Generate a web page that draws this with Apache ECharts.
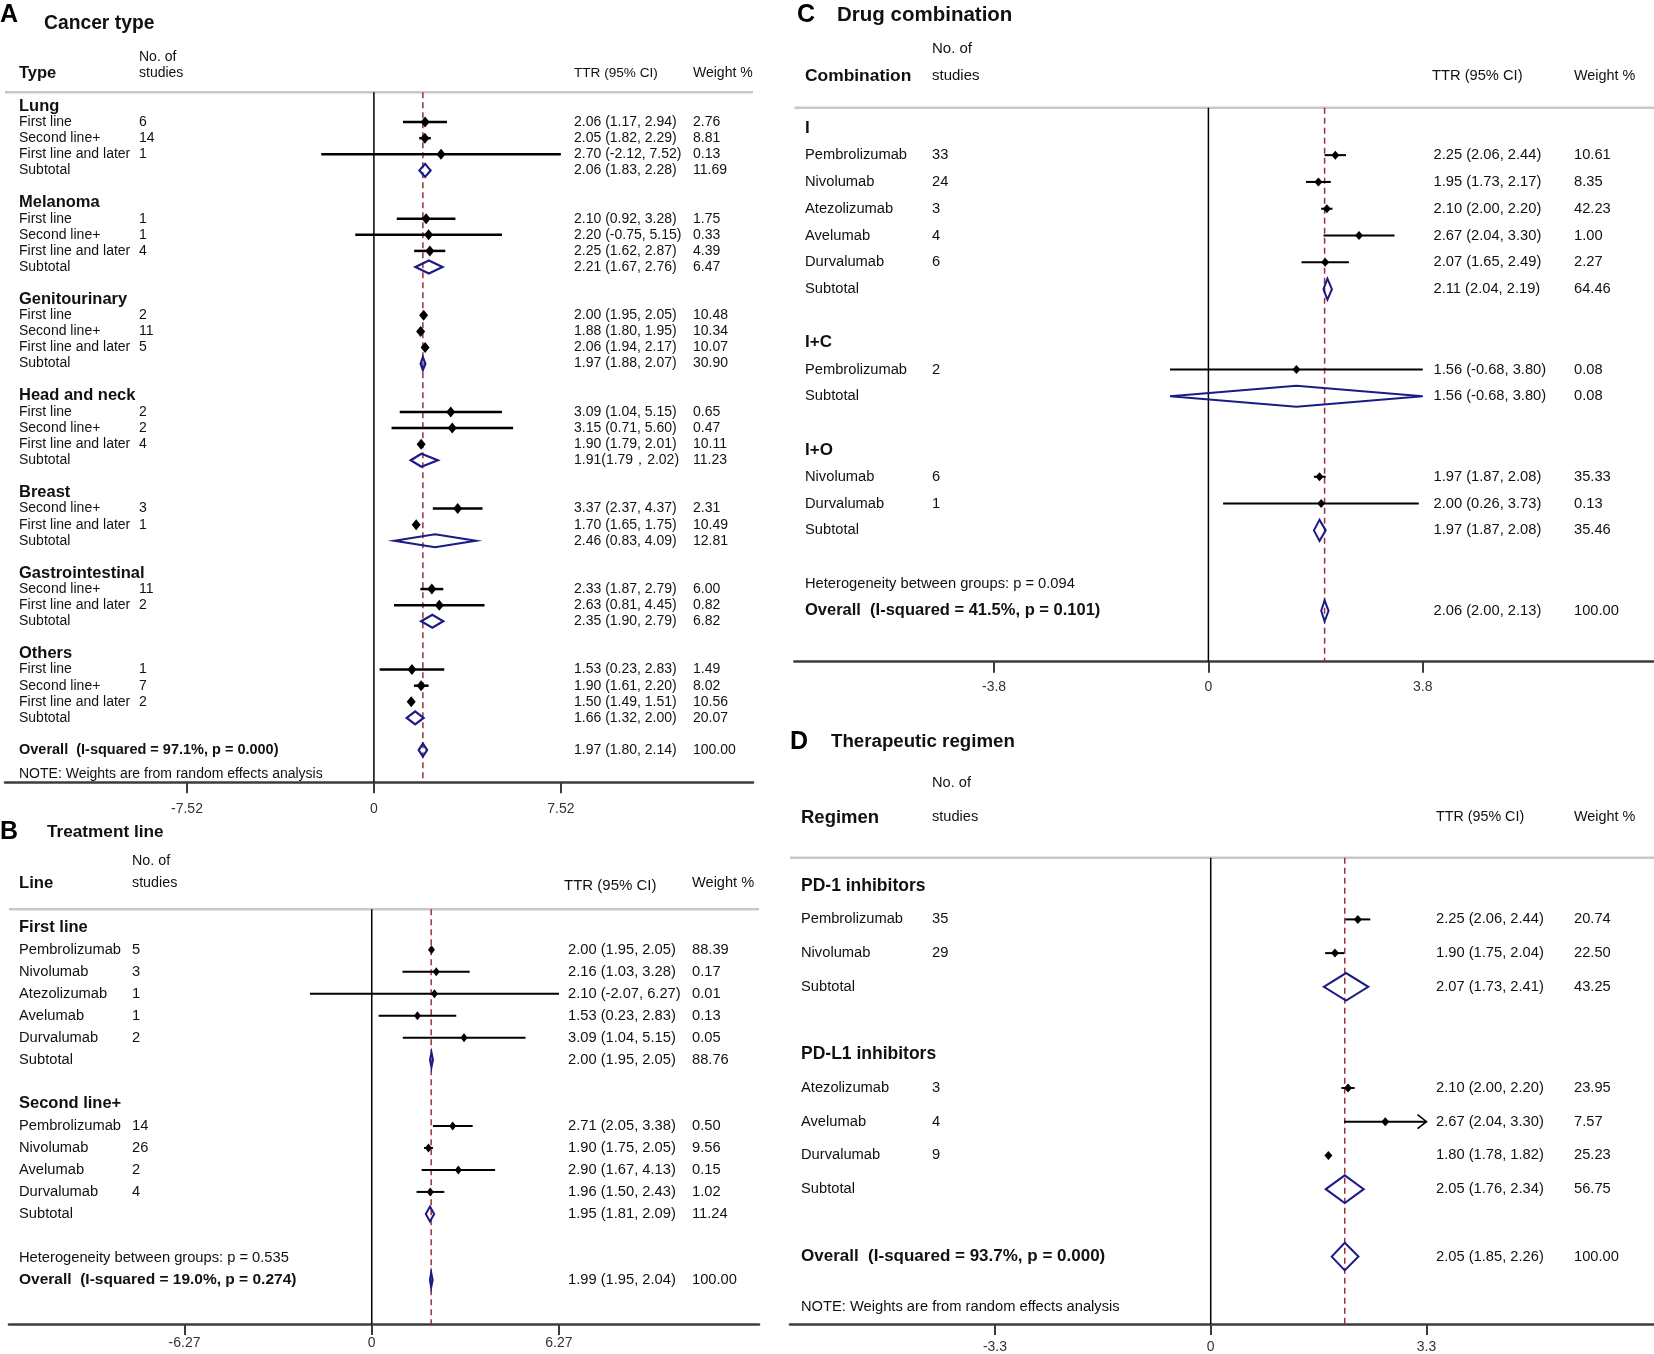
<!DOCTYPE html>
<html>
<head>
<meta charset="UTF-8">
<title>Forest plots</title>
<script src="https://cdn.jsdelivr.net/npm/echarts@6.0.0/dist/echarts.min.js"></script>
<style>
html, body { margin: 0; padding: 0; background: #fff; }
#main { width: 1654px; height: 1354px; }
</style>
</head>
<body>
<div id="main"></div>
<script>
// ---------- A: cancer type ----------
var aPos   = [0, 1, 2, 3, 4, 6, 7, 8, 9, 10, 12, 13, 14, 15, 16, 18, 19, 20, 21, 22, 24, 25, 26, 27, 29, 30, 31, 32, 34, 35, 36, 37, 38, 40, 41.5];
var aKind  = ['h','s','s','s','t', 'h','s','s','s','t', 'h','s','s','s','t', 'h','s','s','s','t', 'h','s','s','t', 'h','s','s','t', 'h','s','s','s','t', 'o','n'];
var aLabel = ['Lung','First line','Second line+','First line and later','Subtotal',
  'Melanoma','First line','Second line+','First line and later','Subtotal',
  'Genitourinary','First line','Second line+','First line and later','Subtotal',
  'Head and neck','First line','Second line+','First line and later','Subtotal',
  'Breast','Second line+','First line and later','Subtotal',
  'Gastrointestinal','Second line+','First line and later','Subtotal',
  'Others','First line','Second line+','First line and later','Subtotal',
  'Overall  (I-squared = 97.1%, p = 0.000)','NOTE: Weights are from random effects analysis'];
var aN     = ['',6,14,1,'', '',1,1,4,'', '',2,11,5,'', '',2,2,4,'', '',3,1,'', '',11,2,'', '',1,7,2,'', '',''];
var aEst   = [null,2.06,2.05,2.70,2.06, null,2.10,2.20,2.25,2.21, null,2.00,1.88,2.06,1.97, null,3.09,3.15,1.90,1.91, null,3.37,1.70,2.46, null,2.33,2.63,2.35, null,1.53,1.90,1.50,1.66, 1.97,null];
// head and neck subtotal: the drawn diamond is wider than its printed interval
var aLow   = [null,1.17,1.82,-2.12,1.83, null,0.92,-0.75,1.62,1.67, null,1.95,1.80,1.94,1.88, null,1.04,0.71,1.79,1.48, null,2.37,1.65,0.83, null,1.87,0.81,1.90, null,0.23,1.61,1.49,1.32, 1.80,null];
var aHigh  = [null,2.94,2.29,7.52,2.28, null,3.28,5.15,2.87,2.76, null,2.05,1.95,2.17,2.07, null,5.15,5.60,2.01,2.57, null,4.37,1.75,4.09, null,2.79,4.45,2.79, null,2.83,2.20,1.51,2.00, 2.14,null];
var aWt    = [null,2.76,8.81,0.13,11.69, null,1.75,0.33,4.39,6.47, null,10.48,10.34,10.07,30.90, null,0.65,0.47,10.11,11.23, null,2.31,10.49,12.81, null,6.00,0.82,6.82, null,1.49,8.02,10.56,20.07, 100.00,null];
var aCIText = {22: '1.91(1.79\uFF0C2.02)'};
var aTicks = [-7.52, 0, 7.52];

// ---------- B: treatment line ----------
var bPos   = [0, 1, 2, 3, 4, 5, 6, 8, 9, 10, 11, 12, 13, 15, 16];
var bKind  = ['h','s','s','s','s','s','t', 'h','s','s','s','s','t', 'n','o'];
var bLabel = ['First line','Pembrolizumab','Nivolumab','Atezolizumab','Avelumab','Durvalumab','Subtotal',
  'Second line+','Pembrolizumab','Nivolumab','Avelumab','Durvalumab','Subtotal',
  'Heterogeneity between groups: p = 0.535','Overall  (I-squared = 19.0%, p = 0.274)'];
var bN     = ['',5,3,1,1,2,'', '',14,26,2,4,'', '',''];
var bEst   = [null,2.00,2.16,2.10,1.53,3.09,2.00, null,2.71,1.90,2.90,1.96,1.95, null,1.99];
var bLow   = [null,1.95,1.03,-2.07,0.23,1.04,1.95, null,2.05,1.75,1.67,1.50,1.81, null,1.95];
var bHigh  = [null,2.05,3.28,6.27,2.83,5.15,2.05, null,3.38,2.05,4.13,2.43,2.09, null,2.04];
var bWt    = [null,88.39,0.17,0.01,0.13,0.05,88.76, null,0.50,9.56,0.15,1.02,11.24, null,100.00];
var bTicks = [-6.27, 0, 6.27];

// ---------- C: drug combination ----------
var cPos   = [0, 1, 2, 3, 4, 5, 6, 8, 9, 10, 12, 13, 14, 15, 17, 18];
var cKind  = ['h','s','s','s','s','s','t', 'h','s','t', 'h','s','s','t', 'n','o'];
var cLabel = ['I','Pembrolizumab','Nivolumab','Atezolizumab','Avelumab','Durvalumab','Subtotal',
  'I+C','Pembrolizumab','Subtotal', 'I+O','Nivolumab','Durvalumab','Subtotal',
  'Heterogeneity between groups: p = 0.094','Overall  (I-squared = 41.5%, p = 0.101)'];
var cN     = ['',33,24,3,4,6,'', '',2,'', '',6,1,'', '',''];
var cEst   = [null,2.25,1.95,2.10,2.67,2.07,2.11, null,1.56,1.56, null,1.97,2.00,1.97, null,2.06];
var cLow   = [null,2.06,1.73,2.00,2.04,1.65,2.04, null,-0.68,-0.68, null,1.87,0.26,1.87, null,2.00];
var cHigh  = [null,2.44,2.17,2.20,3.30,2.49,2.19, null,3.80,3.80, null,2.08,3.73,2.08, null,2.13];
var cWt    = [null,10.61,8.35,42.23,1.00,2.27,64.46, null,0.08,0.08, null,35.33,0.13,35.46, null,100.00];
var cTicks = [-3.8, 0, 3.8];

// ---------- D: therapeutic regimen ----------
var dPos   = [0, 1, 2, 3, 5, 6, 7, 8, 9, 11, 12.5];
var dKind  = ['h','s','s','t', 'h','s','a','s','t', 'o','n'];   // 'a' = CI clipped, drawn with arrow
var dLabel = ['PD-1 inhibitors','Pembrolizumab','Nivolumab','Subtotal',
  'PD-L1 inhibitors','Atezolizumab','Avelumab','Durvalumab','Subtotal',
  'Overall  (I-squared = 93.7%, p = 0.000)','NOTE: Weights are from random effects analysis'];
var dN     = ['',35,29,'', '',3,4,9,'', '',''];
var dEst   = [null,2.25,1.90,2.07, null,2.10,2.67,1.80,2.05, 2.05,null];
var dLow   = [null,2.06,1.75,1.73, null,2.00,2.04,1.78,1.76, 1.85,null];
var dHigh  = [null,2.44,2.04,2.41, null,2.20,3.30,1.82,2.34, 2.26,null];
var dWt    = [null,20.74,22.50,43.25, null,23.95,7.57,25.23,56.75, 100.00,null];
var dTicks = [-3.3, 0, 3.3];

var FONT = '"Liberation Sans", Arial, sans-serif';
var NAVY = '#1b1b86';
var DASH = '#9e2f3a';

// layout of the four panels (pixels)
var panels = [
  { letter: 'A', title: 'Cancer type', head: 'Type',
    pos: aPos, kind: aKind, label: aLabel, n: aN, est: aEst, low: aLow, high: aHigh, wt: aWt, ciText: aCIText, ticks: aTicks,
    grid: { left: 5, top: 92.3, width: 748, height: 690 }, xr: [-14.84, 15.25], yr: [-0.85, 42], margin: 20,
    cols: [19, 139, 574, 693],
    fs: { body: 14, head: 16.5, over: 14.5 },
    mk: { hw: 4.5, hh: 5.5, lw: 2.5, dh: 6.5, dw: 2.2 },
    hd: { lx: 0, ly: 15, tx: 44, ty: 24, tfs: 19.3, noY: 57, stY: 72.7, sfs: 14, hx: 19, hy: 73, hfs: 16.5, ttrX: 574, ttrY: 73, ttrFs: 13.6, wY: 73, wFs: 14 } },
  { letter: 'B', title: 'Treatment line', head: 'Line',
    pos: bPos, kind: bKind, label: bLabel, n: bN, est: bEst, low: bLow, high: bHigh, wt: bWt, ciText: {}, ticks: bTicks,
    grid: { left: 9, top: 909.3, width: 750, height: 414.7 }, xr: [-12.15, 12.97], yr: [-0.84, 18], margin: 12,
    cols: [19, 132, 568, 692],
    fs: { body: 14.7, head: 16.5, over: 15.5 },
    mk: { hw: 3.5, hh: 4.5, lw: 2, dh: 7.5, dw: 2 },
    hd: { lx: 0, ly: 832, tx: 47, ty: 832, tfs: 17.2, noY: 861, stY: 883, sfs: 14.3, hx: 19, hy: 883, hfs: 16.7, ttrX: 564, ttrY: 885.7, ttrFs: 15, wY: 883, wFs: 14.6 } },
  { letter: 'C', title: 'Drug combination', head: 'Combination',
    pos: cPos, kind: cKind, label: cLabel, n: cN, est: cEst, low: cLow, high: cHigh, wt: cWt, ciText: {}, ticks: cTicks,
    grid: { left: 794.4, top: 107.7, width: 859.6, height: 554 }, xr: [-7.34, 7.90], yr: [-0.77, 19.9], margin: 18,
    cols: [805, 932, 1433.5, 1574],
    fs: { body: 14.7, head: 17, over: 16.5 },
    mk: { hw: 4, hh: 4.5, lw: 2, dh: 10.5, dw: 2 },
    hd: { lx: 797, ly: 15, tx: 837, ty: 15, tfs: 20.5, noY: 49.3, stY: 76, sfs: 15, hx: 805, hy: 76, hfs: 17.4, ttrX: 1432, ttrY: 76, ttrFs: 14.7, wY: 76, wFs: 14.4 } },
  { letter: 'D', title: 'Therapeutic regimen', head: 'Regimen',
    pos: dPos, kind: dKind, label: dLabel, n: dN, est: dEst, low: dLow, high: dHigh, wt: dWt, ciText: {}, ticks: dTicks,
    grid: { left: 790, top: 857.7, width: 864, height: 467.3 }, xr: [-6.435, 6.78], yr: [-0.83, 13], margin: 16,
    cols: [801, 932, 1436, 1574],
    fs: { body: 14.7, head: 17.5, over: 17 },
    mk: { hw: 4, hh: 4.5, lw: 2, dh: 13.8, dw: 2 },
    hd: { lx: 790, ly: 741.7, tx: 831, ty: 741.7, tfs: 18.7, noY: 782.7, stY: 816.7, sfs: 14.6, hx: 801, hy: 817.7, hfs: 18.5, ttrX: 1436, ttrY: 817, ttrFs: 14.3, wY: 817, wFs: 14.4 } }
];

var KIND_CODE = { s: 0, t: 1, o: 2, a: 3 };

function fmtCI(e, l, h) {
  return e.toFixed(2) + ' (' + l.toFixed(2) + ', ' + h.toFixed(2) + ')';
}

function markRenderer(st) {
  return function (params, api) {
    var est = api.value(0), pos = api.value(1), lo = api.value(2), hi = api.value(3), k = api.value(4);
    var c = api.coord([est, pos]), l = api.coord([lo, pos]), h = api.coord([hi, pos]);
    var kids = [];
    if (k === 0 || k === 3) {
      kids.push({ type: 'line', shape: { x1: l[0], y1: l[1], x2: h[0], y2: h[1] }, style: { stroke: '#000', lineWidth: st.lw } });
      if (k === 3) {
        kids.push({ type: 'polyline', shape: { points: [[h[0] - 9, h[1] - 7], [h[0], h[1]], [h[0] - 9, h[1] + 7]] },
          style: { stroke: '#000', lineWidth: 1.6, fill: 'none' } });
      }
      kids.push({ type: 'polygon', shape: { points: [[c[0] - st.hw, c[1]], [c[0], c[1] - st.hh], [c[0] + st.hw, c[1]], [c[0], c[1] + st.hh]] },
        style: { fill: '#000' } });
    } else {
      kids.push({ type: 'polygon', shape: { points: [[l[0], l[1]], [c[0], c[1] - st.dh], [h[0], h[1]], [c[0], c[1] + st.dh]] },
        style: { fill: 'none', stroke: NAVY, lineWidth: st.dw } });
    }
    return { type: 'group', children: kids };
  };
}

function refRenderer(params, api) {
  var cs = params.coordSys;
  var x = api.coord([api.value(0), 0])[0];
  var dashed = api.value(1) === 1;
  return { type: 'line', shape: { x1: x, y1: cs.y, x2: x, y2: cs.y + cs.height },
    style: dashed ? { stroke: DASH, lineWidth: 1.5, lineDash: [6, 4] } : { stroke: '#000', lineWidth: 1.5 } };
}

function textRenderer(p) {
  return function (params, api) {
    var i = params.dataIndex;
    var y = api.coord([0, api.value(1)])[1];
    var k = p.kind[i];
    var body = p.fs.body + 'px ' + FONT;
    var kids = [];
    var lf = k === 'h' ? 'bold ' + p.fs.head + 'px ' + FONT : (k === 'o' ? 'bold ' + p.fs.over + 'px ' + FONT : body);
    kids.push({ type: 'text', style: { x: p.cols[0], y: y, text: p.label[i], font: lf, fill: '#111', verticalAlign: 'middle' } });
    if (p.n[i] !== '') {
      kids.push({ type: 'text', style: { x: p.cols[1], y: y, text: String(p.n[i]), font: body, fill: '#111', verticalAlign: 'middle' } });
    }
    if (p.est[i] !== null) {
      var ci = p.ciText[p.pos[i]] || fmtCI(p.est[i], p.low[i], p.high[i]);
      kids.push({ type: 'text', style: { x: p.cols[2], y: y, text: ci, font: body, fill: '#111', verticalAlign: 'middle' } });
      kids.push({ type: 'text', style: { x: p.cols[3], y: y, text: p.wt[i].toFixed(2), font: body, fill: '#111', verticalAlign: 'middle' } });
    }
    return { type: 'group', children: kids };
  };
}

var grids = [], xAxes = [], yAxes = [], series = [], graphics = [];

panels.forEach(function (p, gi) {
  grids.push({ left: p.grid.left, top: p.grid.top, width: p.grid.width, height: p.grid.height, containLabel: false });
  xAxes.push({
    type: 'value', gridIndex: gi, min: p.xr[0], max: p.xr[1],
    axisLine: { show: true, onZero: false, lineStyle: { color: '#3c3c3c', width: 2.6 } },
    axisTick: { show: true, customValues: p.ticks, length: 11, lineStyle: { color: '#3c3c3c', width: 2 } },
    axisLabel: { customValues: p.ticks, margin: p.margin, fontFamily: FONT, fontSize: 14, color: '#333',
      formatter: function (v) { return String(v); } },
    splitLine: { show: false }
  });
  yAxes.push({ type: 'value', gridIndex: gi, inverse: true, min: p.yr[0], max: p.yr[1], show: false });

  var overall = p.est[p.kind.indexOf('o')];
  series.push({
    type: 'custom', xAxisIndex: gi, yAxisIndex: gi, z: 1, silent: true,
    renderItem: refRenderer, data: [[0, 0], [overall, 1]]
  });

  var marks = [];
  p.pos.forEach(function (pos, i) {
    if (p.est[i] !== null) marks.push([p.est[i], pos, p.low[i], p.high[i], KIND_CODE[p.kind[i]]]);
  });
  series.push({
    type: 'custom', xAxisIndex: gi, yAxisIndex: gi, z: 3, silent: true,
    renderItem: markRenderer(p.mk), encode: { x: 0, y: 1 }, data: marks
  });

  series.push({
    type: 'custom', xAxisIndex: gi, yAxisIndex: gi, z: 2, silent: true, clip: false,
    renderItem: textRenderer(p), encode: { x: 0, y: 1 },
    data: p.pos.map(function (pos) { return [0, pos]; })
  });

  var h = p.hd;
  graphics.push(
    { type: 'line', shape: { x1: p.grid.left, y1: p.grid.top, x2: p.grid.left + p.grid.width, y2: p.grid.top },
      style: { stroke: '#c8c8c8', lineWidth: 2.6 } },
    { type: 'text', x: h.lx, y: h.ly, style: { text: p.letter, font: 'bold 25px ' + FONT, fill: '#000', verticalAlign: 'middle' } },
    { type: 'text', x: h.tx, y: h.ty, style: { text: p.title, font: 'bold ' + h.tfs + 'px ' + FONT, fill: '#111', verticalAlign: 'middle' } },
    { type: 'text', x: p.cols[1], y: h.noY, style: { text: 'No. of', font: h.sfs + 'px ' + FONT, fill: '#111', verticalAlign: 'middle' } },
    { type: 'text', x: p.cols[1], y: h.stY, style: { text: 'studies', font: h.sfs + 'px ' + FONT, fill: '#111', verticalAlign: 'middle' } },
    { type: 'text', x: h.hx, y: h.hy, style: { text: p.head, font: 'bold ' + h.hfs + 'px ' + FONT, fill: '#111', verticalAlign: 'middle' } },
    { type: 'text', x: h.ttrX, y: h.ttrY, style: { text: 'TTR (95% CI)', font: h.ttrFs + 'px ' + FONT, fill: '#111', verticalAlign: 'middle' } },
    { type: 'text', x: p.cols[3], y: h.wY, style: { text: 'Weight %', font: h.wFs + 'px ' + FONT, fill: '#111', verticalAlign: 'middle' } }
  );
});

var myChart = echarts.init(document.getElementById('main'));
myChart.setOption({
  animation: false,
  backgroundColor: '#fff',
  grid: grids,
  xAxis: xAxes,
  yAxis: yAxes,
  series: series,
  graphic: { elements: graphics }
});
</script>
</body>
</html>
